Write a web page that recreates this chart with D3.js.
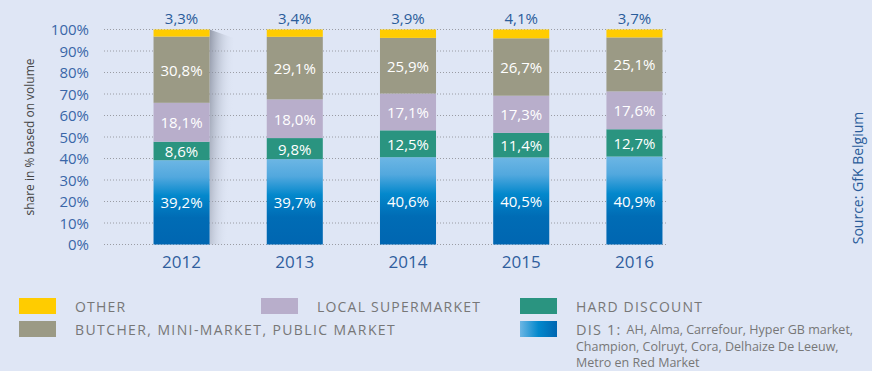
<!DOCTYPE html>
<html>
<head>
<meta charset="utf-8">
<script src="https://cdn.jsdelivr.net/npm/d3@7"></script>
<style>
  html, body { margin: 0; padding: 0; background: #dfe6f5; }
  svg { display: block; font-family: "Open Sans", "Noto Sans", sans-serif; }
</style>
</head>
<body>
<svg id="chart" width="872" height="371"></svg>
<script>
// Market share by channel, Belgium (share in % based on volume)
const years = ["2012", "2013", "2014", "2015", "2016"];
const dis1 = [39.2, 39.7, 40.6, 40.5, 40.9];
const hardDiscount = [8.6, 9.8, 12.5, 11.4, 12.7];
const localSupermarket = [18.1, 18.0, 17.1, 17.3, 17.6];
const butcher = [30.8, 29.1, 25.9, 26.7, 25.1];
const other = [3.3, 3.4, 3.9, 4.1, 3.7];
const yTicks = [0, 10, 20, 30, 40, 50, 60, 70, 80, 90, 100];

const seriesKeys = ["dis1", "hard", "local", "butcher", "other"];
const colors = {
  dis1: "url(#blueGrad)",
  hard: "#2a9480",
  local: "#b8aecb",
  butcher: "#9b9a85",
  other: "#ffcc00"
};

const rows = years.map((y, i) => ({
  year: y,
  dis1: dis1[i], hard: hardDiscount[i], local: localSupermarket[i],
  butcher: butcher[i], other: other[i]
}));

const svg = d3.select("#chart");
const fmt = v => v.toFixed(1).replace(".", ",") + "%";

const defs = svg.append("defs");
const bg = defs.append("linearGradient").attr("id", "blueGrad")
  .attr("x1", 0).attr("y1", 0).attr("x2", 0).attr("y2", 1);
bg.append("stop").attr("offset", "0%").attr("stop-color", "#6cb6e4");
bg.append("stop").attr("offset", "20%").attr("stop-color", "#52a8de");
bg.append("stop").attr("offset", "42%").attr("stop-color", "#0388cc");
bg.append("stop").attr("offset", "68%").attr("stop-color", "#006cb5");
bg.append("stop").attr("offset", "100%").attr("stop-color", "#0066b1");

const lg = defs.append("linearGradient").attr("id", "legendBlue")
  .attr("x1", 0).attr("y1", 0).attr("x2", 1).attr("y2", 0);
lg.append("stop").attr("offset", "0%").attr("stop-color", "#6cb6e4");
lg.append("stop").attr("offset", "50%").attr("stop-color", "#0388cc");
lg.append("stop").attr("offset", "100%").attr("stop-color", "#0066b1");

const sh = defs.append("linearGradient").attr("id", "shadowGrad")
  .attr("x1", 0).attr("y1", 0).attr("x2", 1).attr("y2", 0.35);
sh.append("stop").attr("offset", "0%").attr("stop-color", "#7a8090").attr("stop-opacity", 0.75);
sh.append("stop").attr("offset", "60%").attr("stop-color", "#b0b8c8").attr("stop-opacity", 0.25);
sh.append("stop").attr("offset", "100%").attr("stop-color", "#dfe6f5").attr("stop-opacity", 0);

const x = d3.scaleBand().domain(years).range([125, 691]).paddingInner(0.505).paddingOuter(0.252);
const y = d3.scaleLinear().domain([0, 100]).range([244.5, 29.5]);

// gridlines
svg.append("g").selectAll("line").data(yTicks).join("line")
  .attr("x1", 104).attr("x2", 666)
  .attr("y1", d => y(d)).attr("y2", d => y(d))
  .attr("stroke", "#9a9ca4").attr("stroke-width", 1)
  .attr("stroke-dasharray", "1,2");

// y axis tick labels
const yAxis = d3.axisLeft(y).tickValues(yTicks).tickFormat(d => d + "%").tickSize(0).tickPadding(0);
const ya = svg.append("g").attr("transform", "translate(89,0)").call(yAxis);
ya.select(".domain").remove();
ya.selectAll("text").attr("fill", "#3a66a8").attr("font-size", 15)
  .attr("font-family", "'Open Sans', sans-serif").attr("dy", "0.36em");

// y axis title
svg.append("text")
  .attr("transform", "translate(29,137) rotate(-90)")
  .attr("text-anchor", "middle").attr("dominant-baseline", "central")
  .attr("font-size", 12).attr("fill", "#444").text("share in % based on volume");

// shadow cast by the first bar
const x0 = x(years[0]) + x.bandwidth();
svg.append("path")
  .attr("d", `M${x0},${y(100)} L${x0 + 24},${y(96)} L${x0 + 24},${y(0)} L${x0},${y(0)} Z`)
  .attr("fill", "url(#shadowGrad)");

// stacked bars
const stacked = d3.stack().keys(seriesKeys)(rows);
const layers = svg.append("g").selectAll("g").data(stacked).join("g")
  .attr("fill", d => colors[d.key]);
layers.selectAll("rect").data(d => d).join("rect")
  .attr("x", d => x(d.data.year))
  .attr("width", x.bandwidth())
  .attr("y", d => y(d[1]))
  .attr("height", d => y(d[0]) - y(d[1]));

// value labels inside segments
stacked.filter(s => s.key !== "other").forEach(s => {
  svg.append("g").selectAll("text").data(s).join("text")
    .attr("x", d => x(d.data.year) + x.bandwidth() / 2)
    .attr("y", d => (y(d[0]) + y(d[1])) / 2)
    .attr("text-anchor", "middle").attr("dominant-baseline", "central")
    .attr("fill", "#fff").attr("font-size", 15)
    .text(d => fmt(d.data[s.key]));
});

// "other" labels above the bars
svg.append("g").selectAll("text").data(rows).join("text")
  .attr("x", d => x(d.year) + x.bandwidth() / 2)
  .attr("y", 18)
  .attr("text-anchor", "middle").attr("dominant-baseline", "central")
  .attr("fill", "#2a5c9a").attr("font-size", 15)
  .text(d => fmt(d.other));

// year labels
const xAxis = d3.axisBottom(x).tickSize(0).tickPadding(0);
const xa = svg.append("g").attr("transform", "translate(0,262)").call(xAxis);
xa.select(".domain").remove();
xa.selectAll("text").attr("fill", "#2f5e9e").attr("font-size", 17)
  .attr("font-family", "'Open Sans', sans-serif").attr("dy", "0.36em");

// source
svg.append("text")
  .attr("transform", "translate(857,178) rotate(-90)")
  .attr("text-anchor", "middle").attr("dominant-baseline", "central")
  .attr("font-size", 14).attr("fill", "#2a5c9a").text("Source: GfK Belgium");

// legend
const legendItems = [
  { key: "other", label: "OTHER", x: 19, y: 298, ls: 1.2 },
  { key: "local", label: "LOCAL SUPERMARKET", x: 261, y: 298, ls: 1.2 },
  { key: "hard", label: "HARD DISCOUNT", x: 520, y: 298, ls: 1.2 },
  { key: "butcher", label: "BUTCHER, MINI-MARKET, PUBLIC MARKET", x: 19, y: 321, ls: 1.4 }
];
const lgG = svg.append("g");
legendItems.forEach(it => {
  lgG.append("rect").attr("x", it.x).attr("y", it.y).attr("width", 37).attr("height", 16)
    .attr("fill", colors[it.key]);
  lgG.append("text").attr("x", it.x + 56).attr("y", it.y + 8)
    .attr("dominant-baseline", "central").attr("font-size", 14)
    .attr("letter-spacing", it.ls + "px").attr("fill", "#777").text(it.label);
});
lgG.append("rect").attr("x", 520).attr("y", 321).attr("width", 37).attr("height", 16)
  .attr("fill", "url(#legendBlue)");
const dt = lgG.append("text").attr("x", 576).attr("y", 329)
  .attr("dominant-baseline", "central").attr("fill", "#777");
dt.append("tspan").attr("font-size", 14.5).attr("letter-spacing", "1.2px").text("DIS 1: ");
dt.append("tspan").attr("font-size", 12.5).text("AH, Alma, Carrefour, Hyper GB market,");
lgG.append("text").attr("x", 576).attr("y", 346).attr("dominant-baseline", "central")
  .attr("font-size", 12.5).attr("fill", "#777").text("Champion, Colruyt, Cora, Delhaize De Leeuw,");
lgG.append("text").attr("x", 576).attr("y", 362).attr("dominant-baseline", "central")
  .attr("font-size", 12.5).attr("fill", "#777").text("Metro en Red Market");
</script>
</body>
</html>
